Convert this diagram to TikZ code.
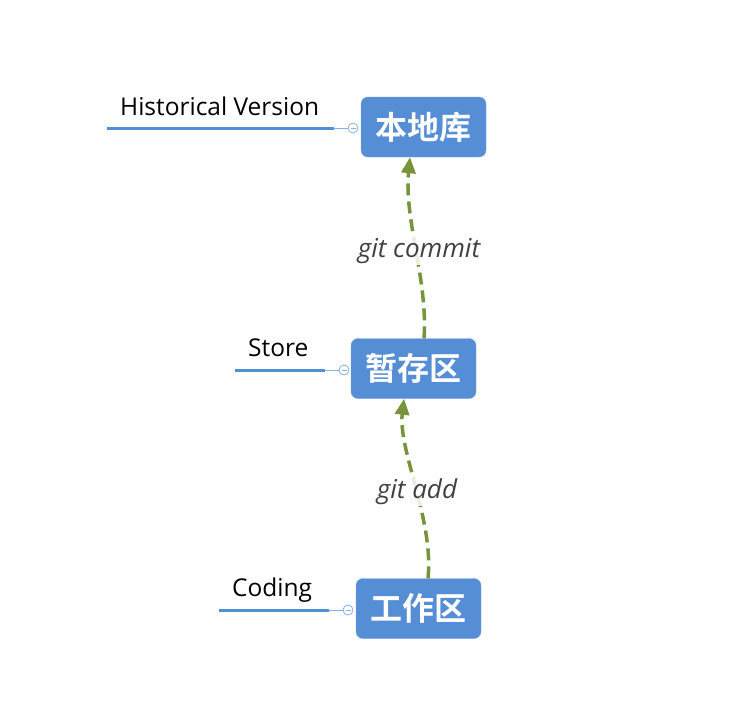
\documentclass[tikz,border=0pt]{standalone}
\usepackage{fontspec}
\setmainfont{Open Sans}
\newfontfamily\cjk{Noto Sans CJK SC}[BoldFont={Noto Sans CJK SC Bold}]
\usetikzlibrary{arrows.meta,calc}
\definecolor{boxblue}{HTML}{558ED5}
\definecolor{arrgreen}{HTML}{77933C}
\definecolor{lblgray}{HTML}{404040}
\tikzset{
  stage/.style={fill=boxblue, draw=boxblue!80!white, rounded corners=7pt, minimum width=125pt, minimum height=60pt, text=white, font=\cjk\bfseries\fontsize{32}{35}\selectfont, inner sep=0pt},
  note/.style={font=\fontsize{24.5}{28}\selectfont, text=black, inner sep=0pt, anchor=base west},
  thickline/.style={boxblue, line width=3pt},
  thinline/.style={boxblue!70!white, line width=1pt},
  knob/.style={circle, draw=boxblue!70!white, fill=white, line width=0.8pt, minimum size=10pt, inner sep=0pt},
  flow/.style={arrgreen, line width=3.5pt, dash pattern=on 12pt off 6pt, -{Triangle[length=16pt,width=14pt]}},
  flowlabel/.style={font=\itshape\fontsize{26}{30}\selectfont, text=lblgray, fill=white, fill opacity=0.85, text opacity=1, inner sep=1pt}
}
\begin{document}
\begin{tikzpicture}[x=1pt,y=-1pt]
\useasboundingbox (0,0) rectangle (751,721);
% stages
\node[stage] (repo) at (423.5,127) {本地库};
\node[stage] (stage) at (413.5,368.5) {暂存区};
\node[stage] (work) at (418.5,608.5) {工作区};
% side notes
\node[knob] (k1) at (353,128) {};
\node[knob] (k2) at (344,370) {};
\node[knob] (k3) at (348,610) {};
\draw[boxblue!70!white, line width=0.8pt] ($(k1.center)+(-2.5,0)$) -- ($(k1.center)+(2.5,0)$);
\draw[boxblue!70!white, line width=0.8pt] ($(k2.center)+(-2.5,0)$) -- ($(k2.center)+(2.5,0)$);
\draw[boxblue!70!white, line width=0.8pt] ($(k3.center)+(-2.5,0)$) -- ($(k3.center)+(2.5,0)$);
\coordinate (a1) at (107,128); \coordinate (b1) at (334,128);
\coordinate (a2) at (235,370); \coordinate (b2) at (325,370);
\coordinate (a3) at (219,610); \coordinate (b3) at (329,610);
\draw[thickline] (a1) -- (b1);
\draw[thinline] (b1) -- (k1);
\draw[thickline] (a2) -- (b2);
\draw[thinline] (b2) -- (k2);
\draw[thickline] (a3) -- (b3);
\draw[thinline] (b3) -- (k3);
\node[note] (n1) at (120,115) {Historical Version};
\node[note] (n2) at (248,356) {Store};
\node[note] (n3) at (232,596) {Coding};
% flows
\draw[flow] ([xshift=10.5pt]stage.north) .. controls (428,280) and (404,220) .. ([xshift=-13.5pt]repo.south);
\node[flowlabel] (l1) at (419,251) {git commit};
\draw[flow] ([xshift=9.5pt]work.north) .. controls (434,520) and (398,450) .. ([xshift=-9.5pt]stage.south);
\node[flowlabel] (l2) at (417,492) {git add};
\end{tikzpicture}
\end{document}
